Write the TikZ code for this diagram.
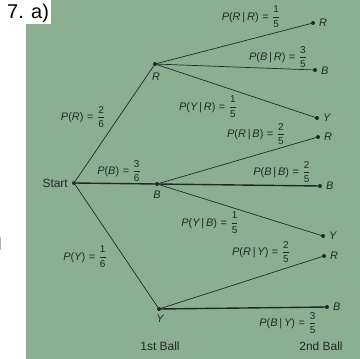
\documentclass[tikz,border=0pt]{standalone}
\usepackage{fontspec}
\setmainfont{Liberation Sans}
\newfontfamily\labfont[LetterSpace=5]{Liberation Sans}
\usepackage{amsmath}
\definecolor{bg}{RGB}{141,175,145}
\definecolor{ink}{RGB}{32,40,36}
\newcommand\fr[2]{$\genfrac{}{}{0.45pt}{0}{\text{\upshape\fontsize{10}{11}\selectfont #1}}{\text{\upshape\fontsize{10}{11}\selectfont #2}}$}
\newcommand\pl[1]{{\itshape #1}}
\tikzset{
  dotn/.style={circle,fill=ink,inner sep=0pt,minimum size=4pt},
  br/.style={draw=ink,line width=0.7pt},
  brthick/.style={draw=ink,line width=1.4pt},
  lab/.style={text=ink,inner sep=0pt,font=\labfont\fontsize{11}{12}\selectfont},
  lettxt/.style={text=ink,inner sep=0pt,font=\fontsize{11}{12}\selectfont\itshape},
  captxt/.style={text=ink,inner sep=0pt,font=\fontsize{12}{14}\selectfont},
}
\begin{document}
\begin{tikzpicture}[x=1bp,y=-1bp]
\useasboundingbox (0,0) rectangle (360,359);
\fill[white] (0,0) rectangle (360,359);
\fill[bg] (26,24) -- (51,24) -- (51,0) -- (360,0) -- (360,359) -- (26,359) -- cycle;
\fill[gray!60] (0,237) rectangle (1.5,250);
\node[text=black,inner sep=0pt,font=\fontsize{20}{22}\selectfont,anchor=west] (title) at (7,13) {7. a)};

% first level
\node[dotn] (S) at (74,183) {};
\node[dotn] (R) at (155,64) {};
\node[dotn] (B) at (157,184) {};
\node[dotn] (Y) at (159,309) {};
% second level
\node[dotn] (RR) at (313,23) {};
\node[dotn] (RB) at (315,70) {};
\node[dotn] (RY) at (317,118) {};
\node[dotn] (BR) at (318,137) {};
\node[dotn] (BB) at (320,186) {};
\node[dotn] (BY) at (323,236) {};
\node[dotn] (YR) at (324,256) {};
\node[dotn] (YB) at (327,307) {};

\draw[br] (S) -- (R);
\draw[brthick] (S) -- (B);
\draw[br] (S) -- (Y);
\draw[br] (R) -- (RR);
\draw[br] (R) -- (RB);
\draw[br] (R) -- (RY);
\draw[br] (B) -- (BR);
\draw[brthick] (B) -- (BB);
\draw[br] (B) -- (BY);
\draw[br] (Y) -- (YR);
\draw[brthick] (Y) -- (YB);

% node letters
\node[captxt,anchor=east] (tStart) at (68,183) {Start};
\node[lettxt] (tR) at (156,77) {R};
\node[lettxt] (tB) at (157,195) {B};
\node[lettxt] (tY) at (160,319) {Y};
\node[lettxt,anchor=west] (tRR) at (319,23) {R};
\node[lettxt,anchor=west] (tRB) at (321,71) {B};
\node[lettxt,anchor=west] (tRY) at (323,118) {Y};
\node[lettxt,anchor=west] (tBR) at (324,137) {R};
\node[lettxt,anchor=west] (tBB) at (326,186) {B};
\node[lettxt,anchor=west] (tBY) at (329,236) {Y};
\node[lettxt,anchor=west] (tYR) at (330,256) {R};
\node[lettxt,anchor=west] (tYB) at (333,307) {B};

% probability labels
\node[lab] (lR) at (83,117) {\pl{P}(\pl{R}) = \fr{2}{6}};
\node[lab] (lB) at (119,171) {\pl{P}(\pl{B}) = \fr{3}{6}};
\node[lab] (lY) at (85,257) {\pl{P}(\pl{Y}) = \fr{1}{6}};
\node[lab] (lRR) at (251,17) {\pl{P}(\pl{R}\,|\,\pl{R}) = \fr{1}{5}};
\node[lab] (lRB) at (278,57) {\pl{P}(\pl{B}\,|\,\pl{R}) = \fr{3}{5}};
\node[lab] (lRY) at (208,107) {\pl{P}(\pl{Y}\,|\,\pl{R}) = \fr{1}{5}};
\node[lab] (lBR) at (256,134) {\pl{P}(\pl{R}\,|\,\pl{B}) = \fr{2}{5}};
\node[lab] (lBB) at (282,172) {\pl{P}(\pl{B}\,|\,\pl{B}) = \fr{2}{5}};
\node[lab] (lBY) at (210,223) {\pl{P}(\pl{Y}\,|\,\pl{B}) = \fr{1}{5}};
\node[lab] (lYR) at (261,252) {\pl{P}(\pl{R}\,|\,\pl{Y}) = \fr{2}{5}};
\node[lab] (lYB) at (288,323) {\pl{P}(\pl{B}\,|\,\pl{Y}) = \fr{3}{5}};

\node[captxt] (first) at (160,346) {1st Ball};
\node[captxt] (second) at (321,346) {2nd Ball};
\end{tikzpicture}
\end{document}
